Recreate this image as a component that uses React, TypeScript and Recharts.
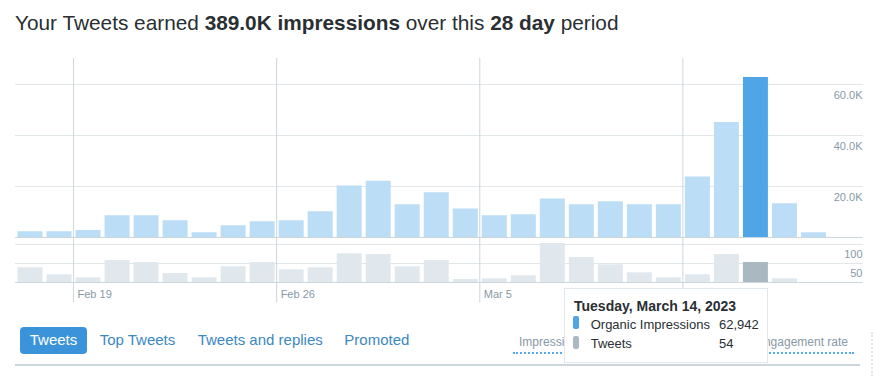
import React from "react";
import { BarChart, Bar, XAxis, YAxis, CartesianGrid, ReferenceLine, Tooltip, Cell } from "recharts";

const days = [
  "Feb 17", "Feb 18", "Feb 19", "Feb 20", "Feb 21", "Feb 22", "Feb 23", "Feb 24", "Feb 25", "Feb 26",
  "Feb 27", "Feb 28", "Mar 1", "Mar 2", "Mar 3", "Mar 4", "Mar 5", "Mar 6", "Mar 7", "Mar 8",
  "Mar 9", "Mar 10", "Mar 11", "Mar 12", "Mar 13", "Mar 14", "Mar 15", "Mar 16",
];
const impressions = [
  2500, 2500, 2900, 8700, 8700, 6800, 2100, 4800, 6400, 6800,
  10300, 20400, 22300, 13000, 17700, 11400, 8700, 9100, 15300, 13000,
  14200, 13000, 13000, 23900, 45300, 62942, 13400, 2100,
];
const tweets = [
  40, 22, 14, 59, 54, 25, 14, 43, 54, 35,
  40, 77, 75, 43, 59, 9, 11, 19, 104, 67,
  48, 27, 14, 22, 75, 54, 11, 0,
];
const weekStarts = ["Feb 19", "Feb 26", "Mar 5", "Mar 12"];
const highlightDay = "Mar 14";
const highlightTitle = "Tuesday, March 14, 2023";
const impressionTicks = [0, 20000, 40000, 60000];
const tweetTicks = [0, 50, 100];
const tabs = ["Tweets", "Top Tweets", "Tweets and replies", "Promoted"];
const metrics = ["Impressions", "Engagements", "Engagement rate"];

const data = days.map((d, i) => ({ i, day: d, impressions: impressions[i], tweets: tweets[i] }));
const weekPos = weekStarts.map((w) => days.indexOf(w) - 0.5);
const hiIndex = days.indexOf(highlightDay);

const FONT = '"Liberation Sans", Arial, sans-serif';
const GRID = "#ccd6dd";
const DOTS = "#c2ccd3";
const LABEL = "#8899a6";
const X_DOMAIN: [number, number] = [-0.5, 28.69];
const MARGIN_L = 15.5;
const MARGIN_R = 17.5;

const fmtK = (v: number) => (v === 0 ? "" : (v / 1000).toFixed(1) + "K");
const fmtN = (v: number) => (v === 0 ? "" : String(v));

const RightTick = (props: any) => {
  const { x, y, payload, fmt } = props;
  return (
    <text x={x} y={y + 14} textAnchor="end" fontSize={11} fill={LABEL} fontFamily={FONT}>
      {fmt(payload.value)}
    </text>
  );
};

const DateTick = (props: any) => {
  const { x, y, payload } = props;
  const idx = Math.round(payload.value + 0.5);
  return (
    <text x={x + 4} y={y - 7} textAnchor="start" fontSize={11} fill={LABEL} fontFamily={FONT}>
      {days[idx]}
    </text>
  );
};

const TooltipBox = (props: any) => {
  const { payload } = props;
  if (!payload || !payload.length) return null;
  const row = payload[0].payload;
  const rowStyle: React.CSSProperties = { position: "absolute", fontSize: 13, lineHeight: "15px", color: "#292f33", whiteSpace: "nowrap" };
  return (
    <div
      style={{
        position: "relative",
        width: 204,
        height: 75,
        boxSizing: "border-box",
        background: "#fff",
        border: "1px solid #e1e8ed",
        fontFamily: FONT,
      }}
    >
      <div style={{ position: "absolute", left: 9, top: 9, fontSize: 14, lineHeight: "16px", fontWeight: "bold", color: "#292f33", whiteSpace: "nowrap" }}>
        {highlightTitle}
      </div>
      <div style={{ position: "absolute", left: 8, top: 27.3, width: 6, height: 12.7, borderRadius: 2, background: "#50a5e6" }} />
      <div style={{ ...rowStyle, left: 25.7, top: 28 }}>Organic Impressions</div>
      <div style={{ ...rowStyle, left: 154, top: 28 }}>{row.impressions.toLocaleString("en-US")}</div>
      <div style={{ position: "absolute", left: 8, top: 47.3, width: 6, height: 12.7, borderRadius: 2, background: "#aab8c2" }} />
      <div style={{ ...rowStyle, left: 25.7, top: 47 }}>Tweets</div>
      <div style={{ ...rowStyle, left: 154, top: 47 }}>{row.tweets}</div>
    </div>
  );
};

const tabLeft = [20, 99.7, 197.7, 344.3];

export default function App() {
  return (
    <div style={{ position: "relative", width: 880, height: 376, overflow: "hidden", background: "#fff", fontFamily: FONT }}>
      <style>{"body{margin:0}"}</style>
      <div style={{ position: "absolute", left: 15, top: 10.8, fontSize: 20.8, lineHeight: "24px", color: "#292f33", whiteSpace: "nowrap" }}>
        Your Tweets earned <b>389.0K impressions</b> over this <b>28 day</b> period
      </div>

      <div style={{ position: "absolute", left: 0, top: 0, zIndex: 1 }}>
        <BarChart width={880} height={240} data={data} margin={{ top: 58, right: MARGIN_R, bottom: 2.5, left: MARGIN_L }}>
          <CartesianGrid vertical={false} stroke={DOTS} strokeDasharray="1 1" syncWithTicks />
          <XAxis dataKey="i" type="number" domain={X_DOMAIN} allowDataOverflow hide />
          <YAxis
            orientation="right"
            mirror
            width={1}
            domain={[0, 70400]}
            allowDataOverflow
            ticks={impressionTicks}
            interval={0}
            axisLine={false}
            tickLine={false}
            tickSize={0}
            tickMargin={0}
            tick={<RightTick fmt={fmtK} />}
          />
          {weekPos.map((p) => (
            <ReferenceLine key={p} x={p} stroke={GRID} strokeWidth={1} />
          ))}
          <Bar dataKey="impressions" barSize={25} isAnimationActive={false}>
            {data.map((d, i) => (
              <Cell key={i} fill={i === hiIndex ? "#50a5e6" : "#bbddf5"} />
            ))}
          </Bar>
          <ReferenceLine y={0} stroke={GRID} strokeWidth={1} />
        </BarChart>
      </div>

      <div style={{ position: "absolute", left: 0, top: 230, zIndex: 3 }}>
        <BarChart width={880} height={80} data={data} margin={{ top: 7.5, right: MARGIN_R, bottom: 0, left: MARGIN_L }}>
          <CartesianGrid vertical={false} stroke={DOTS} strokeDasharray="1 1" syncWithTicks />
          <XAxis
            dataKey="i"
            type="number"
            domain={X_DOMAIN}
            allowDataOverflow
            ticks={weekPos}
            height={27.5}
            axisLine={{ stroke: GRID }}
            tickLine={{ stroke: GRID }}
            tickSize={20}
            tickMargin={2}
            tick={<DateTick />}
            interval={0}
          />
          <YAxis
            orientation="right"
            mirror
            width={1}
            domain={[0, 118.42]}
            allowDataOverflow
            ticks={tweetTicks}
            interval={0}
            axisLine={false}
            tickLine={false}
            tickSize={0}
            tickMargin={0}
            tick={<RightTick fmt={fmtN} />}
          />
          {weekPos.map((p) => (
            <ReferenceLine key={p} x={p} stroke={GRID} strokeWidth={1} />
          ))}
          <Bar dataKey="tweets" barSize={25} isAnimationActive={false}>
            {data.map((d, i) => (
              <Cell key={i} fill={i === hiIndex ? "#aab8c2" : "#e1e8ed"} />
            ))}
          </Bar>
          <Tooltip
            active
            defaultIndex={hiIndex}
            position={{ x: 564, y: 58 }}
            cursor={false}
            isAnimationActive={false}
            content={<TooltipBox />}
            wrapperStyle={{ zIndex: 10, outline: "none" }}
          />
        </BarChart>
      </div>

      {tabs.map((t, k) =>
        k === 0 ? (
          <div
            key={t}
            style={{
              position: "absolute",
              left: tabLeft[k],
              top: 327,
              width: 67,
              height: 26.7,
              lineHeight: "26.7px",
              background: "#3b94d9",
              borderRadius: 4,
              color: "#fff",
              fontSize: 15,
              textAlign: "center",
              zIndex: 2,
            }}
          >
            {t}
          </div>
        ) : (
          <div key={t} style={{ position: "absolute", left: tabLeft[k], top: 327, height: 26.7, lineHeight: "26.7px", color: "#3b88c3", fontSize: 15, whiteSpace: "nowrap", zIndex: 2 }}>
            {t}
          </div>
        )
      )}
      <div style={{ position: "absolute", left: 15, top: 364, width: 845, height: 2, background: GRID, zIndex: 2 }} />

      {metrics.map((m, k) => {
        const pos: React.CSSProperties = k === 0 ? { left: 513 } : k === 1 ? { left: 640 } : { right: 26 };
        return (
          <div
            key={m}
            style={{
              position: "absolute",
              top: 334.8,
              ...pos,
              padding: "0 6px 3px 6px",
              fontSize: 12,
              lineHeight: "14px",
              color: LABEL,
              borderBottom: "2px dotted #55acee",
              whiteSpace: "nowrap",
              zIndex: 2,
            }}
          >
            {m}
          </div>
        );
      })}
      <div style={{ position: "absolute", left: 871, top: 332, height: 44, borderLeft: "2px dotted #e1e8ed", zIndex: 2 }} />
    </div>
  );
}
